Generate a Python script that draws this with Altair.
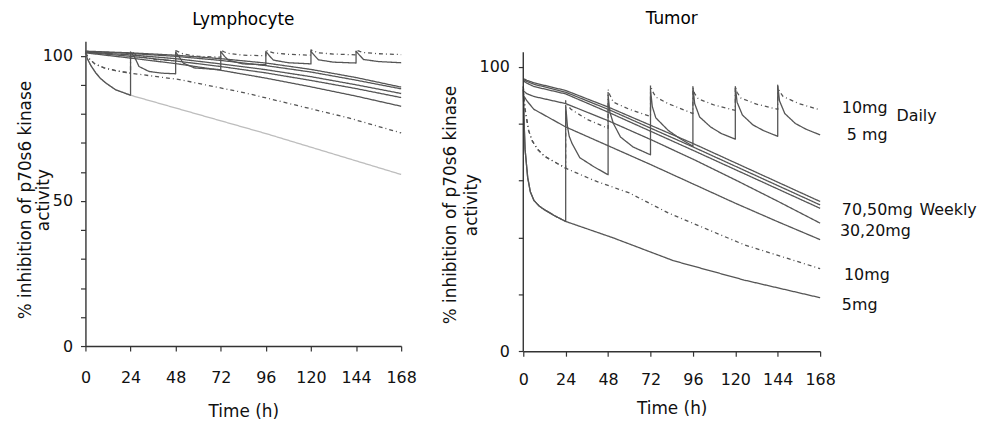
import altair as alt
import pandas as pd

# ---------------- axis ticks ----------------
x_ticks = [0, 24, 48, 72, 96, 120, 144, 168]
y_ticks = [0, 10, 20, 30, 40, 50, 60, 70, 80, 90, 100]
y_title = ["% inhibition of p70s6 kinase", "activity"]
y_axis_top = 105

# ---------------- Lymphocyte panel ----------------
L_week_t = [0, 24, 48, 72, 96, 120, 144, 168]
L_w1 = [101.6, 101.0, 100.2, 99.0, 97.5, 95.3, 92.5, 89.2]
L_w2 = [101.5, 100.8, 99.8, 98.4, 96.6, 94.4, 91.6, 88.6]
L_w3 = [101.3, 100.3, 99.0, 97.2, 95.2, 92.8, 90.0, 87.0]
L_w4 = [101.2, 99.8, 98.2, 96.3, 94.1, 91.5, 88.7, 85.6]
L_w5 = [101.0, 99.2, 97.3, 95.0, 92.3, 89.3, 86.1, 82.6]

L_5w_t = [0, 1, 3, 5.6, 8, 10.9, 16, 24, 96, 168]
L_5w_v = [101, 99, 96.5, 94, 92.2, 90.6, 88.3, 86.4, 73.2, 59.1]

L_10w_t = [0, 1, 2, 5, 10, 16, 24, 50, 85, 140, 168]
L_10w_v = [101, 100, 99, 97.2, 95.8, 94.9, 94.0, 91.8, 87.2, 78.6, 73.4]

L_5d_t = [24, 26, 28.5, 33.8, 40.8, 48,
          48, 50, 52, 58, 72,
          72, 74, 76, 84, 96,
          96, 98, 100, 108, 120,
          120, 122, 124, 132, 144,
          144, 146, 148, 156, 168]
L_5d_v = [101.2, 99.8, 96.3, 94.6, 94.0, 93.8,
          101.3, 99.5, 97.5, 95.8, 95.2,
          101.5, 99.8, 98.5, 97.2, 96.9,
          101.5, 99.9, 98.5, 97.6, 97.2,
          101.5, 100.0, 98.6, 97.8, 97.5,
          101.6, 100.1, 98.7, 98.0, 97.6]

L_10d_t = [24, 26, 28, 36, 48,
           48, 50, 52, 60, 72,
           72, 74, 76, 84, 96,
           96, 98, 100, 108, 120,
           120, 122, 124, 132, 144,
           144, 146, 148, 156, 168]
L_10d_v = [101.6, 100.8, 100.0, 98.8, 98.2,
           101.8, 101.2, 100.6, 99.8, 99.5,
           101.9, 101.3, 100.8, 100.2, 100.0,
           101.9, 101.4, 101.0, 100.5, 100.2,
           102.0, 101.5, 101.0, 100.6, 100.3,
           102.0, 101.5, 101.1, 100.7, 100.4]

# ---------------- Tumor panel ----------------
T_week_t = [0, 2, 6, 24, 48, 72, 96, 120, 144, 168]
T_w1 = [95.8, 95.2, 94.3, 91.6, 85.8, 79.4, 73.0, 66.2, 59.4, 52.6]
T_w2 = [95.5, 94.8, 93.8, 91.0, 85.0, 78.4, 71.8, 65.0, 58.2, 51.4]
T_w3 = [95.0, 94.2, 93.0, 90.4, 84.0, 77.3, 70.6, 63.8, 57.0, 50.2]
T_w4 = [91.5, 90.5, 89.5, 87.0, 81.0, 74.4, 67.5, 60.2, 52.7, 45.0]
T_w5 = [90.0, 88.0, 85.0, 78.8, 72.2, 65.6, 58.8, 52.0, 45.5, 39.2]

T_5w_t = [0, 0.5, 1, 2.5, 4, 6, 9, 12, 18, 24, 51, 85, 125, 168]
T_5w_v = [92, 80, 71, 61, 56, 53, 51, 49.7, 47.5, 45.6, 39.8, 31.8, 25, 18.8]

T_10w_t = [0, 1, 3, 5, 8, 12, 24, 40, 60, 82, 125, 168]
T_10w_v = [93, 85, 77.6, 74, 71, 68.5, 64.3, 60, 55.6, 48.6, 37.4, 29]

T_5d_t = [24, 25, 26, 27.6, 32, 40, 48,
          48, 49, 51, 55, 62, 72,
          72, 73, 75, 82, 88, 96,
          96, 97, 99.8, 106, 112, 120,
          120, 121, 124, 130, 136, 144,
          144, 145, 148, 154, 160, 168]
T_5d_v = [86.4, 79, 75.5, 73, 68, 64.8, 62,
          90, 84, 80, 75.3, 71.8, 69,
          92, 86, 82, 77.6, 75, 72,
          93, 87, 82.3, 78.8, 76.5, 74.5,
          93, 87.5, 83, 79.5, 77.5, 75.5,
          93.5, 88, 83.5, 80, 78, 76]

T_10d_t = [24, 25, 27, 36, 48,
           48, 49, 51, 60, 72,
           72, 73, 75, 82, 96,
           96, 97, 99, 108, 120,
           120, 121, 123, 132, 144,
           144, 145, 147, 156, 168]
T_10d_v = [88, 86.5, 85, 81.5, 78.3,
           92, 90, 87.5, 85, 82.5,
           93.4, 91.5, 89.3, 87, 83.5,
           92.5, 90.5, 88.7, 86.5, 84.6,
           93, 91, 89, 86.8, 85,
           93, 91.3, 89.5, 87, 84.8]

# right-hand annotations of the Tumor panel
lab_text = ["10mg", "Daily", "5 mg", "70,50mg", "Weekly", "30,20mg", "10mg", "5mg"]
lab_t = [180.3, 211.2, 183.1, 180.3, 224.2, 179.2, 181.5, 180.3]
lab_v = [85.3, 82.5, 75.9, 49.7, 49.7, 42.3, 26.7, 16.4]


def first_day(ts, vs):
    k = [i for i, t in enumerate(ts) if t <= 24]
    return [ts[i] for i in k], [vs[i] for i in k]


rows = []


def add(panel, series, style, ts, vs):
    for i, (t, v) in enumerate(zip(ts, vs)):
        rows.append(dict(panel=panel, series=series, style=style, i=i, t=t, v=v))


add("L", "5mg weekly", "light", L_5w_t, L_5w_v)
for n, s in zip(["w1", "w2", "w3", "w4", "w5"], [L_w1, L_w2, L_w3, L_w4, L_w5]):
    add("L", n, "solid", L_week_t, s)
add("L", "10mg weekly", "dot", L_10w_t, L_10w_v)
a, b = first_day(L_5w_t, L_5w_v)
add("L", "5mg daily", "solid", a + L_5d_t, b + L_5d_v)
a, b = first_day(L_10w_t, L_10w_v)
add("L", "10mg daily", "dot", a + L_10d_t, b + L_10d_v)

add("T", "5mg weekly", "solid", T_5w_t, T_5w_v)
for n, s in zip(["w1", "w2", "w3", "w4", "w5"], [T_w1, T_w2, T_w3, T_w4, T_w5]):
    add("T", n, "solid", T_week_t, s)
add("T", "10mg weekly", "dot", T_10w_t, T_10w_v)
a, b = first_day(T_5w_t, T_5w_v)
add("T", "5mg daily", "solid", a + T_5d_t, b + T_5d_v)
a, b = first_day(T_10w_t, T_10w_v)
add("T", "10mg daily", "dot", a + T_10d_t, b + T_10d_v)

df = pd.DataFrame(rows)
labels = pd.DataFrame({"text": lab_text, "t": lab_t, "v": lab_v})

FONT = "DejaVu Sans"
AX = "#333333"


def panel(code, title, width, height, ymax, title_offset, xlab_pad, xtitle_pad,
          ylab_pad, ytitle_x, ytitle_y, ylh, own_domain):
    data = df[df.panel == code]
    x = alt.X("t:Q", scale=alt.Scale(domain=[0, 168], nice=False, zero=False),
              axis=alt.Axis(values=x_ticks, title="Time (h)", labelPadding=xlab_pad,
                            titlePadding=xtitle_pad, labelFlush=False))
    y = alt.Y("v:Q", scale=alt.Scale(domain=[0, ymax], nice=False),
              axis=alt.Axis(values=y_ticks, title=y_title, domain=not own_domain,
                            labelExpr="datum.value % 50 == 0 ? datum.label : ''",
                            labelPadding=ylab_pad, titleX=ytitle_x, titleY=ytitle_y,
                            titleAngle=-90, titleAlign="center", titleBaseline="middle",
                            titleLineHeight=ylh))
    lines = alt.Chart(data).mark_line(strokeWidth=1.3, strokeJoin="round").encode(
        x=x, y=y,
        detail="series:N",
        order="i:Q",
        color=alt.Color("style:N", scale=alt.Scale(domain=["solid", "dot", "light"],
                                                   range=["#555555", "#555555", "#bdbdbd"]),
                        legend=None),
        strokeDash=alt.StrokeDash("style:N", scale=alt.Scale(domain=["solid", "dot", "light"],
                                                             range=[[1, 0], [4, 3, 1, 3], [1, 0]]),
                                  legend=None),
    )
    layers = [lines]
    if own_domain:
        axis_line = alt.Chart(pd.DataFrame({"t": [0], "v": [0], "v2": [y_axis_top]})).mark_rule(
            color=AX, strokeWidth=1.4).encode(x="t:Q", y="v:Q", y2="v2:Q")
        layers.append(axis_line)
    if code == "T":
        txt = alt.Chart(labels).mark_text(align="left", baseline="middle", font=FONT,
                                          fontSize=16, color="#111").encode(
            x="t:Q", y="v:Q", text="text:N")
        layers.append(txt)
    return alt.layer(*layers).properties(
        width=width, height=height,
        title=alt.TitleParams(title, offset=title_offset, font=FONT, fontSize=17,
                              fontWeight="normal", color="#000"))


# Tumor plot area is taller at the top (axis line stops at 105) so that both panels
# keep their own vertical placement.
tumor_px_per_unit = 301 / 105
extra = 11.2
right_h = 301 + extra
right_max = 105 + extra / tumor_px_per_unit

left = panel("L", "Lymphocyte", 318, 307, 105, 12, 19, 18, 8, -60, 159.5, 18, False)
right = panel("T", "Tumor", 299, right_h, right_max, 13, 16, 13, 9, -73, 164.5, 21, True)

chart = alt.hconcat(left, right, spacing=25).properties(
    padding={"left": 9, "top": 1, "right": 0, "bottom": 0}
).configure_view(stroke=None).configure_axis(
    grid=False, domainColor=AX, tickColor=AX, domainWidth=1.4, tickWidth=1.2,
    tickSize=5, labelFont=FONT, labelFontSize=16, labelColor="#111111",
    titleFont=FONT, titleFontSize=17, titleFontWeight="normal", titleColor="#111111"
)

chart.save("out.html", embed_options={"renderer": "svg", "actions": False})
